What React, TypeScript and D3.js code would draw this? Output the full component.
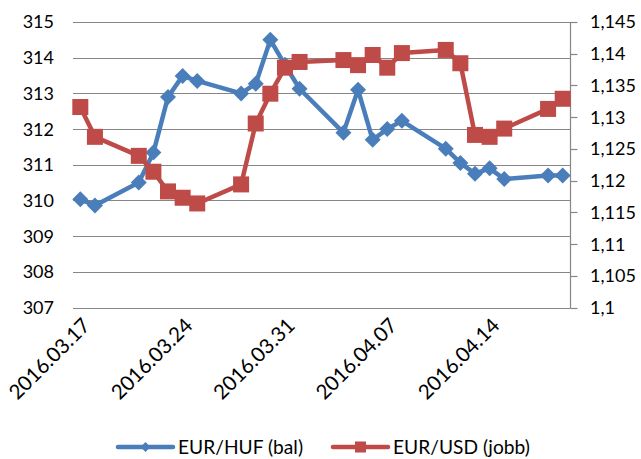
import * as d3 from 'd3';
import React, { useRef, useEffect, useCallback } from 'react';

const dates = [
    "2016-03-17", "2016-03-18", "2016-03-21", "2016-03-22", "2016-03-23", "2016-03-24",
    "2016-03-25", "2016-03-28", "2016-03-29", "2016-03-30", "2016-03-31", "2016-04-01",
    "2016-04-04", "2016-04-05", "2016-04-06", "2016-04-07", "2016-04-08", "2016-04-11",
    "2016-04-12", "2016-04-13", "2016-04-14", "2016-04-15", "2016-04-18", "2016-04-19"
];

const eurHuf = [
    310.03, 309.86, 310.5, 311.34, 312.9, 313.49,
    313.35, 313.0, 313.27, 314.5, 313.8, 313.13,
    311.9, 313.1, 311.7, 312.0, 312.23, 311.45,
    311.05, 310.75, 310.9, 310.6, 310.7, 310.7
];

const eurUsd = [
    1.1316, 1.1269, 1.1239, 1.1214, 1.1183, 1.1173,
    1.1164, 1.1194, 1.129, 1.1337, 1.1378, 1.1387,
    1.139, 1.1382, 1.1398, 1.1378, 1.1401, 1.1406,
    1.1385, 1.1272, 1.1269, 1.1282, 1.1313, 1.1329
];

const xTickDates = ["2016-03-17", "2016-03-24", "2016-03-31", "2016-04-07", "2016-04-14"];
const leftTicks = [307, 308, 309, 310, 311, 312, 313, 314, 315];
const rightTicks = [1.1, 1.105, 1.11, 1.115, 1.12, 1.125, 1.13, 1.135, 1.14, 1.145];

const seriesNames = ["EUR/HUF (bal)", "EUR/USD (jobb)"];

const BLUE = "#4A7EBB";
const RED = "#BE4B48";
const FONT = "Lato, 'Open Sans', sans-serif";

function ExchangeChart({ width, height }) {
    const ref = useRef();

    const draw = useCallback(() => {
        const svg = d3.select(ref.current);
        svg.selectAll("*").remove();

        const margin = { top: 22, right: 71, bottom: 151.5, left: 73 };
        const parse = d3.utcParse("%Y-%m-%d");
        const rows = dates.map((d, i) => ({ date: parse(d), huf: eurHuf[i], usd: eurUsd[i] }));

        const first = parse(dates[0]);
        const last = parse(dates[dates.length - 1]);
        const x = d3.scaleUtc()
            .domain([d3.utcHour.offset(first, -12), d3.utcHour.offset(last, 12)])
            .range([margin.left, width - margin.right]);

        const yL = d3.scaleLinear()
            .domain([307, 315])
            .range([height - margin.bottom, margin.top]);

        const yR = d3.scaleLinear()
            .domain([1.1, 1.145])
            .range([height - margin.bottom, margin.top]);

        // gridlines (left axis)
        svg.append("g")
            .selectAll("line")
            .data(leftTicks)
            .join("line")
            .attr("x1", margin.left)
            .attr("x2", width - margin.right)
            .attr("y1", d => Math.round(yL(d)) + 0.5)
            .attr("y2", d => Math.round(yL(d)) + 0.5)
            .attr("stroke", "#868686")
            .attr("stroke-width", 1.2);

        // left labels
        svg.append("g")
            .selectAll("text")
            .data(leftTicks)
            .join("text")
            .attr("x", 54)
            .attr("y", d => yL(d))
            .attr("dy", "0.36em")
            .attr("text-anchor", "end")
            .attr("font-family", FONT)
            .attr("font-size", 18)
            .attr("fill", "#000")
            .text(d => d);

        // right axis
        const fmtR = (v) => d3.format(".3~f")(v).replace(".", ",");
        const rx = Math.round(width - margin.right) + 0.5;
        const rAxis = svg.append("g");
        rAxis.append("line")
            .attr("x1", rx).attr("x2", rx)
            .attr("y1", margin.top).attr("y2", Math.round(height - margin.bottom) + 0.5)
            .attr("stroke", "#868686")
            .attr("stroke-width", 1.2);
        rAxis.selectAll("line.tick")
            .data(rightTicks)
            .join("line")
            .attr("class", "tick")
            .attr("x1", rx).attr("x2", rx + 7)
            .attr("y1", d => Math.round(yR(d)) + 0.5)
            .attr("y2", d => Math.round(yR(d)) + 0.5)
            .attr("stroke", "#868686")
            .attr("stroke-width", 1.2);
        rAxis.selectAll("text")
            .data(rightTicks)
            .join("text")
            .attr("x", 590)
            .attr("y", d => yR(d))
            .attr("dy", "0.36em")
            .attr("font-family", FONT)
            .attr("font-size", 18)
            .attr("fill", "#000")
            .text(fmtR);

        // x labels
        svg.append("g")
            .selectAll("text")
            .data(xTickDates)
            .join("text")
            .attr("transform", d => `translate(${x(parse(d)) + 6},${height - margin.bottom + 14}) rotate(-45)`)
            .attr("text-anchor", "end")
            .attr("dy", "0.36em")
            .attr("font-family", FONT)
            .attr("font-size", 20.5)
            .attr("fill", "#000")
            .text(d => d.replace(/-/g, "."));

        const lineHuf = d3.line().x(d => x(d.date)).y(d => yL(d.huf));
        const lineUsd = d3.line().x(d => x(d.date)).y(d => yR(d.usd));

        const diamond = (s) => `M0,${-s}L${s},0L0,${s}L${-s},0Z`;

        // EUR/HUF
        svg.append("path")
            .datum(rows)
            .attr("fill", "none")
            .attr("stroke", BLUE)
            .attr("stroke-width", 4.5)
            .attr("stroke-linejoin", "round")
            .attr("d", lineHuf);
        svg.append("g")
            .selectAll("path")
            .data(rows)
            .join("path")
            .attr("transform", d => `translate(${x(d.date)},${yL(d.huf)})`)
            .attr("d", diamond(8))
            .attr("fill", BLUE);

        // EUR/USD
        svg.append("path")
            .datum(rows)
            .attr("fill", "none")
            .attr("stroke", RED)
            .attr("stroke-width", 4.5)
            .attr("stroke-linejoin", "round")
            .attr("d", lineUsd);
        svg.append("g")
            .selectAll("rect")
            .data(rows)
            .join("rect")
            .attr("x", d => x(d.date) - 8)
            .attr("y", d => yR(d.usd) - 8)
            .attr("width", 16)
            .attr("height", 16)
            .attr("fill", RED);

        // legend
        const legend = svg.append("g");
        const items = [
            { name: seriesNames[0], color: BLUE, x0: 118, shape: "diamond" },
            { name: seriesNames[1], color: RED, x0: 333, shape: "square" }
        ];
        const ly = 447;
        items.forEach(it => {
            legend.append("line")
                .attr("x1", it.x0).attr("x2", it.x0 + 55)
                .attr("y1", ly).attr("y2", ly)
                .attr("stroke", it.color)
                .attr("stroke-width", 4.5)
                .attr("stroke-linecap", "round");
            if (it.shape === "diamond") {
                legend.append("path")
                    .attr("transform", `translate(${it.x0 + 27.5},${ly})`)
                    .attr("d", diamond(5))
                    .attr("fill", it.color);
            } else {
                legend.append("rect")
                    .attr("x", it.x0 + 27.5 - 5.5).attr("y", ly - 5.5)
                    .attr("width", 11).attr("height", 11)
                    .attr("fill", it.color);
            }
            legend.append("text")
                .attr("x", it.x0 + 60)
                .attr("y", ly)
                .attr("dy", "0.36em")
                .attr("font-family", FONT)
                .attr("font-size", 19.2)
                .attr("fill", "#000")
                .text(it.name);
        });
    }, [height, width]);

    useEffect(() => {
        draw();
    }, [draw]);

    return (
        <svg ref={ref} width={width} height={height}
            style={{ position: "absolute", left: 0, top: 0, background: "#fff" }} />
    );
}

export default function App() {
    return <ExchangeChart width={641} height={459} />;
}
